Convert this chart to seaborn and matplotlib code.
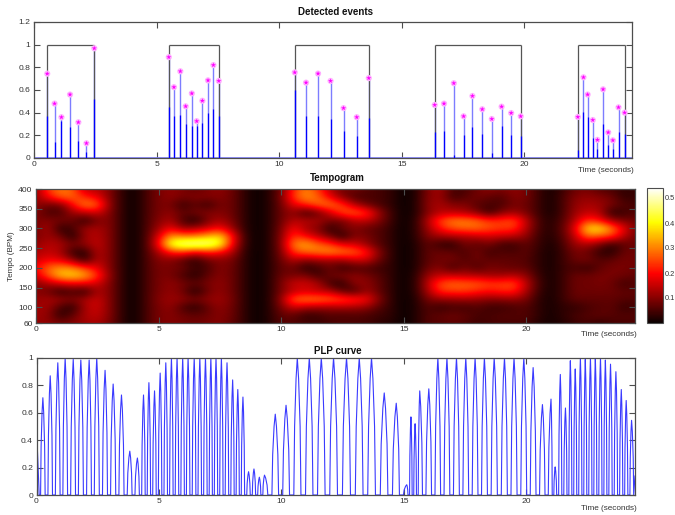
import numpy as np
import pandas as pd
import matplotlib
matplotlib.use('Agg')
import matplotlib.pyplot as plt
import seaborn as sns

# detected events
event_times = [0.54, 0.84, 1.12, 1.47, 1.81, 2.14, 2.46,
               5.50, 5.71, 5.97, 6.19, 6.44, 6.64, 6.87, 7.10, 7.32, 7.54,
               10.64, 11.10, 11.59, 12.10, 12.63, 13.17, 13.66,
               16.35, 16.73, 17.13, 17.53, 17.89, 18.29, 18.68, 19.08, 19.47, 19.86,
               22.19, 22.42, 22.59, 22.80, 22.99, 23.22, 23.43, 23.62, 23.85, 24.10]
event_heights = [0.744, 0.48, 0.36, 0.56, 0.315, 0.13, 0.968,
                 0.89, 0.625, 0.765, 0.456, 0.57, 0.325, 0.505, 0.685, 0.82, 0.68,
                 0.755, 0.665, 0.745, 0.68, 0.44, 0.36, 0.705,
                 0.468, 0.48, 0.66, 0.368, 0.547, 0.43, 0.344, 0.453, 0.397, 0.368,
                 0.362, 0.712, 0.56, 0.335, 0.16, 0.606, 0.226, 0.156, 0.447, 0.40]
event_dark = [0.37, 0.14, 0.33, 0.27, 0.15, 0.05, 0.52,
              0.45, 0.37, 0.38, 0.30, 0.285, 0.285, 0.31, 0.40, 0.43, 0.37,
              0.60, 0.37, 0.37, 0.34, 0.24, 0.19, 0.35,
              0.23, 0.24, 0.03, 0.20, 0.27, 0.21, 0.04, 0.28, 0.20, 0.19,
              0.07, 0.41, 0.36, 0.175, 0.08, 0.30, 0.115, 0.08, 0.23, 0.21]
gate_starts = [0.54, 5.50, 10.64, 16.35, 22.19]
gate_ends = [2.46, 7.54, 13.66, 19.86, 24.10]

# tempogram, hundredths, one row per tempo and one column per half second
tempo_bpm = [400, 380, 360, 340, 320, 300, 280, 260, 240, 220, 200, 180, 160, 140, 120, 100, 80, 60]
tempo_time = [i * 0.5 for i in range(50)]
tempogram = [
    [11,24,29,27,14,14,10,3,0,5, 9,11,9,7,9,11,8,3,0,2, 8,22,30,24,14,8,9,6,5,3, 0,2,10,13,5,5,8,11,9,11, 9,4,1,4,8,9,6,5,3,4],
    [11,20,28,28,22,18,10,3,0,5, 9,11,9,10,10,10,8,3,0,2, 9,24,32,28,18,10,5,5,5,3, 0,2,10,12,4,6,9,7,6,10, 9,4,1,5,10,11,10,8,3,4],
    [11,8,8,20,31,28,11,3,0,5, 9,9,3,7,3,9,8,3,0,2, 8,18,22,28,30,24,14,8,5,3, 0,2,11,13,10,10,6,5,5,9, 8,4,1,5,11,13,12,9,6,5],
    [10,5,5,12,14,16,10,3,0,5, 9,11,7,9,10,10,8,3,0,2, 8,11,3,7,16,26,28,24,12,4, 0,2,10,14,14,13,10,3,10,12, 9,4,1,5,12,15,14,2,4,6],
    [9,10,9,8,2,9,10,3,0,5, 10,13,5,1,9,13,9,3,0,2, 8,14,14,13,9,8,14,15,10,4, 0,3,14,25,30,30,28,24,24,26, 15,5,2,6,14,24,20,12,9,8],
    [9,13,2,5,12,13,10,3,0,5, 12,19,11,13,16,20,12,3,0,2, 9,20,12,10,2,8,10,7,6,3, 0,3,12,21,26,28,28,26,24,24, 14,5,2,7,18,38,40,30,18,9],
    [9,12,9,1,12,14,10,3,0,5, 17,32,30,30,34,38,22,4,0,2, 10,24,20,14,9,1,10,9,6,3, 0,3,10,12,13,13,15,16,15,14, 11,4,2,6,15,28,26,24,14,8],
    [11,14,13,9,11,15,10,3,0,5, 20,44,50,52,50,44,20,4,0,2, 10,30,34,28,24,18,16,11,6,3, 0,2,7,3,2,9,6,9,4,4, 7,4,1,5,12,13,9,3,7,8],
    [13,15,13,3,2,14,10,3,0,5, 13,22,24,18,22,20,14,3,0,2, 9,24,28,30,32,30,28,22,10,3, 0,2,7,8,7,5,9,4,6,5, 7,3,1,4,9,8,3,2,8,8],
    [15,19,17,11,2,14,10,3,0,5, 10,10,6,2,8,10,9,3,0,2, 8,14,10,12,12,12,16,16,8,3, 0,2,7,8,9,6,8,7,7,7, 6,3,1,4,8,9,6,7,9,8],
    [20,28,32,30,24,18,10,3,0,5, 9,9,8,4,5,10,8,3,0,2, 7,8,2,4,8,3,5,5,4,3, 0,2,8,10,4,9,5,9,8,7, 7,3,1,4,5,3,7,9,9,8],
    [16,26,36,38,34,24,11,3,0,5, 9,9,5,2,7,10,8,3,0,2, 8,9,10,4,8,10,11,9,6,3, 0,3,12,15,16,14,14,12,12,14, 11,4,1,4,8,8,9,9,8,7],
    [10,13,16,18,18,16,10,3,0,5, 9,11,9,7,9,11,8,3,0,2, 9,16,16,14,4,2,11,11,7,3, 0,3,15,26,28,28,27,25,25,26, 15,5,1,4,8,8,9,8,4,6],
    [10,8,2,5,2,13,10,3,0,5, 9,11,8,1,8,11,8,3,0,2, 9,14,16,14,14,7,4,12,7,3, 0,3,13,23,24,24,22,20,22,22, 13,4,1,4,8,8,8,8,7,7],
    [11,13,12,10,13,16,10,3,0,5, 10,12,11,9,11,12,9,3,0,2, 11,28,30,30,28,26,24,20,10,3, 0,2,9,11,11,12,11,10,10,11, 9,3,1,4,7,7,7,7,6,6],
    [12,12,5,2,13,16,10,3,0,5, 9,11,5,2,7,11,8,3,0,2, 9,16,13,12,12,13,12,11,6,3, 0,2,6,3,5,4,6,4,4,5, 6,3,1,3,3,5,6,7,3,5],
    [12,11,2,7,13,15,10,3,0,5, 9,10,8,7,8,10,8,3,0,2, 7,7,3,4,6,5,6,5,4,3, 0,2,6,7,8,7,5,5,6,6, 6,3,1,3,5,6,7,6,6,6],
    [11,11,9,10,12,13,9,3,0,5, 9,10,9,8,9,10,7,3,0,2, 6,6,5,4,5,6,5,5,3,2, 0,2,6,6,7,6,4,5,5,5, 5,2,1,2,4,5,3,5,5,5],
]
tempo_ticks = [60, 100, 150, 200, 250, 300, 350, 400]

# PLP curve, peaks and the troughs in front of them
plp_peak_times = [0.26, 0.56, 0.87, 1.17, 1.50, 1.81, 2.15, 2.46, 2.80, 3.13, 3.47, 3.81, 4.12, 4.37,
                  4.59, 4.82, 5.05, 5.28, 5.51, 5.74, 5.97, 6.19, 6.44, 6.67, 6.90, 7.12, 7.33, 7.55,
                  7.78, 8.01, 8.22, 8.43, 8.66, 8.88, 9.10, 9.31, 9.75, 10.19, 10.65, 11.14, 11.63,
                  12.13, 12.66, 13.18, 13.68, 14.20, 14.69, 15.12, 15.29, 15.46, 15.65, 16.02, 16.39,
                  16.76, 17.15, 17.53, 17.91, 18.29, 18.69, 19.11, 19.50, 19.90, 20.28, 20.66, 21.01,
                  21.18, 21.39, 21.60, 21.80, 22.00, 22.21, 22.41, 22.62, 22.82, 23.03, 23.23, 23.44,
                  23.66, 23.88, 24.08, 24.30]
plp_peak_values = [0.71, 0.87, 0.965, 1.0, 0.99, 0.985, 0.985, 1.0, 0.91, 0.81, 0.73, 0.32, 0.27, 0.73,
                   0.82, 0.76, 0.89, 0.965, 1.0, 1.0, 1.0, 1.0, 1.0, 1.0, 1.0, 1.0, 1.0, 1.0,
                   0.965, 0.84, 0.77, 0.715, 0.17, 0.19, 0.13, 0.145, 0.59, 0.655, 1.0, 1.0, 1.0,
                   1.0, 1.0, 1.0, 1.0, 0.745, 0.67, 0.075, 0.57, 0.52, 0.76, 0.775, 1.0,
                   1.0, 1.0, 1.0, 1.0, 1.0, 1.0, 1.0, 1.0, 1.0, 0.93, 0.66, 0.70,
                   0.205, 0.88, 0.635, 0.98, 0.92, 1.0, 0.99, 1.0, 1.0, 1.0, 0.985, 0.955,
                   0.90, 0.77, 0.69, 0.545]
plp_trough_times = [0.11, 0.41, 0.71, 1.02, 1.33, 1.65, 1.98, 2.30, 2.63, 2.96, 3.30, 3.64, 3.96, 4.25,
                    4.48, 4.70, 4.93, 5.16, 5.39, 5.62, 5.85, 6.08, 6.31, 6.55, 6.78, 7.01, 7.22, 7.44,
                    7.66, 7.89, 8.11, 8.32, 8.54, 8.77, 8.99, 9.20, 9.53, 9.97, 10.42, 10.89, 11.38,
                    11.88, 12.39, 12.92, 13.43, 13.94, 14.44, 14.90, 15.20, 15.37, 15.55, 15.83, 16.20,
                    16.57, 16.95, 17.34, 17.72, 18.10, 18.49, 18.90, 19.30, 19.70, 20.09, 20.47, 20.83,
                    21.09, 21.28, 21.49, 21.70, 21.90, 22.10, 22.31, 22.51, 22.72, 22.92, 23.13, 23.33,
                    23.55, 23.77, 23.98, 24.19]
plp_start = 0.5
plp_end = 0.14
plp_end_time = 24.44
# shape of one pulse as seen in the reference, from its peak out to the trough
pulse_time_frac = [0.0, 0.22, 0.48, 0.62, 1.0]
pulse_value_frac = [1.0, 0.85, 0.5, 0.0, 0.0]

W, H = 675, 515
BLUE = '#0000ff'
GREY = '#4d4d4d'
TXT = '#333333'
FS = 5.9


def add_axes(fig, left, top, right, bottom):
    return fig.add_axes([left / W, 1 - bottom / H, (right - left) / W, (bottom - top) / H])


def matlab_box(ax, label_y):
    for s in ax.spines.values():
        s.set_visible(True)
        s.set_color(GREY)
        s.set_linewidth(0.9)
    ax.tick_params(direction='in', top=True, right=True, bottom=True, left=True,
                   length=4.3, width=0.8, color=GREY, labelsize=FS + 0.2, labelcolor=TXT, pad=2.5)
    ax.set_xticks([0, 5, 10, 15, 20])
    ax.set_xticklabels(['0', '5', '10', '15', '20'])
    ax.set_xlabel('Time (seconds)', fontsize=FS, color=TXT, ha='right', va='top')
    ax.xaxis.set_label_coords(1.003, label_y)
    ax.set_ylabel('')


sns.set_theme(style='white')
plt.rcParams['font.family'] = ['Liberation Sans', 'DejaVu Sans']
fig = plt.figure(figsize=(W / 100, H / 100), dpi=100)

# top panel
ax1 = add_axes(fig, 34, 22, 632, 158)
ax1.vlines(event_times, 0, event_heights, color='#7d7dff', lw=1.0, zorder=2)
ax1.vlines(event_times, 0, event_dark, color=BLUE, lw=0.9, zorder=3)
ax1.vlines(gate_starts + gate_ends, 0, 1, color='#555555', lw=0.9, zorder=2)
ax1.hlines([1] * len(gate_starts), gate_starts, gate_ends, color='#555555', lw=0.9, zorder=2)
ax1.hlines([0], 0, 24.4, color='#7d7dff', lw=1.2, zorder=2)
events = pd.DataFrame({'t': event_times, 'h': event_heights})
sns.scatterplot(data=events, x='t', y='h', ax=ax1, marker='o', s=20, color='#ffb4ff', edgecolor='none', zorder=4)
sns.scatterplot(data=events, x='t', y='h', ax=ax1, marker='*', s=14, color='#ff00ff', edgecolor='none', zorder=5)
ax1.set_xlim(0, 24.4)
ax1.set_ylim(0, 1.2)
ax1.set_yticks([0, 0.2, 0.4, 0.6, 0.8, 1, 1.2])
ax1.set_yticklabels(['0', '0.2', '0.4', '0.6', '0.8', '1', '1.2'])
matlab_box(ax1, -0.065)
ax1.set_title('Detected events', fontsize=7.0, fontweight='bold', color='#111111', pad=5, x=0.505)

# tempogram
ax2 = add_axes(fig, 36, 189, 635, 323)
half_t = (tempo_time[1] - tempo_time[0]) / 2
half_b = (tempo_bpm[0] - tempo_bpm[1]) / 2
im = ax2.imshow(np.array(tempogram) / 100, cmap='hot', vmin=0, vmax=0.54, aspect='auto', interpolation='bicubic',
                extent=(tempo_time[0] - half_t, tempo_time[-1] + half_t, tempo_bpm[-1] - half_b, tempo_bpm[0] + half_b))
ax2.set_xlim(0, 24.44)
ax2.set_ylim(60, 400)
ax2.set_yticks(tempo_ticks)
matlab_box(ax2, -0.06)
ax2.grid(False)
ax2.set_ylabel('Tempo (BPM)', fontsize=FS, color=TXT, labelpad=2)
ax2.set_title('Tempogram', fontsize=7.0, fontweight='bold', color='#111111', pad=6, x=0.503)

cax = add_axes(fig, 647, 188, 663, 323)
cb = fig.colorbar(im, cax=cax)
cb.set_ticks([0.1, 0.2, 0.3, 0.4, 0.5])
cb.ax.tick_params(direction='in', length=3, width=0.7, color=GREY, labelsize=5.3, labelcolor=TXT, pad=1)
cb.outline.set_edgecolor(GREY)
cb.outline.set_linewidth(0.8)

# PLP curve, each read peak drawn with the pulse shape between its two troughs
curve_t = [0.0]
curve_v = [plp_start]
right_troughs = plp_trough_times[1:] + [plp_end_time]
for tl, pt, tr, pv in zip(plp_trough_times, plp_peak_times, right_troughs, plp_peak_values):
    for tf, vf in zip(pulse_time_frac[::-1], pulse_value_frac[::-1]):
        curve_t.append(pt - tf * (pt - tl))
        curve_v.append(vf * pv)
    for tf, vf in zip(pulse_time_frac[1:], pulse_value_frac[1:]):
        curve_t.append(pt + tf * (tr - pt))
        curve_v.append(vf * pv)
curve_t[-1] = plp_end_time
curve_v[-1] = plp_end

ax3 = add_axes(fig, 36.5, 358, 635, 495)
sns.lineplot(x=curve_t, y=curve_v, ax=ax3, color='#3a3aff', lw=0.8, sort=False, estimator=None, errorbar=None)
ax3.set_xlim(0, 24.44)
ax3.set_ylim(0, 1)
ax3.set_yticks([0, 0.2, 0.4, 0.6, 0.8, 1])
ax3.set_yticklabels(['0', '0.2', '0.4', '0.6', '0.8', '1'])
matlab_box(ax3, -0.075)
ax3.set_title('PLP curve', fontsize=7.0, fontweight='bold', color='#111111', pad=3, x=0.503)

fig.savefig('out.png', dpi=100)
